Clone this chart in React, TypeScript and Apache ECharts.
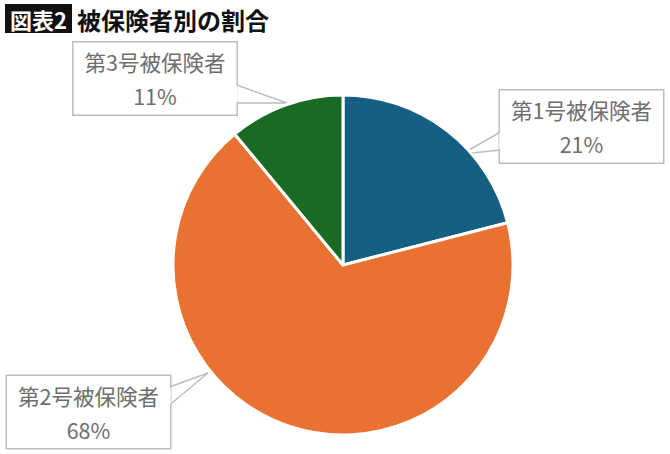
import React, { useEffect, useRef } from 'react';
import * as echarts from 'echarts';

const categories = ['第1号被保険者', '第2号被保険者', '第3号被保険者'];
const shares = [21, 68, 11];
const colors = ['#156082', '#E97132', '#196B24'];

// callout boxes (centre) and the wedge that points into each slice
const boxCenters = [
  [581.5, 126.5],
  [88.5, 412],
  [155, 78.5],
];
const wedges = [
  [[500.5, 132], [462, 154], [500.5, 150]],
  [[169.5, 387], [208, 373], [169.5, 405]],
  [[236.5, 85], [287, 103], [236.5, 103]],
];

const FONT = '"Noto Sans CJK JP", "Noto Sans", sans-serif';

const App: React.FC = () => {
  const chartRef = useRef<HTMLDivElement>(null);

  useEffect(() => {
    if (!chartRef.current) return;
    const chart = echarts.init(chartRef.current, undefined, { renderer: 'svg' });

    // white strokes that open the box border where each wedge joins it
    const gaps = wedges.map((w) => ({
      type: 'line',
      z: 100,
      shape: { x1: w[0][0], y1: w[0][1] + 1, x2: w[2][0], y2: w[2][1] - 1 },
      style: { stroke: '#fff', lineWidth: 2.5 },
    }));

    chart.setOption({
      animation: false,
      backgroundColor: '#fff',
      textStyle: { fontFamily: FONT },
      graphic: [
        { type: 'rect', shape: { x: 5, y: 4, width: 67, height: 29 }, style: { fill: '#111' } },
        {
          type: 'text',
          x: 38.5,
          y: 19,
          style: {
            text: '図表2',
            fill: '#fff',
            font: `bold 22px ${FONT}`,
            align: 'center',
            verticalAlign: 'middle',
          },
        },
        {
          type: 'text',
          x: 77,
          y: 19,
          style: {
            text: '被保険者別の割合',
            fill: '#111',
            font: `bold 24px ${FONT}`,
            align: 'left',
            verticalAlign: 'middle',
          },
        },
        ...gaps,
      ],
      series: [
        {
          type: 'pie',
          center: [343, 265],
          radius: 170,
          startAngle: 90,
          clockwise: true,
          itemStyle: { borderColor: '#fff', borderWidth: 3 },
          label: {
            show: true,
            formatter: '{b}\n{c}%',
            color: '#6e6e6e',
            fontSize: 21.5,
            lineHeight: 34,
            fontFamily: FONT,
            backgroundColor: '#fff',
            borderColor: '#bdbdbd',
            borderWidth: 1.5,
            padding: [2, 10],
            width: 143,
            align: 'center',
          },
          labelLine: {
            show: true,
            lineStyle: { color: '#bdbdbd', width: 1.5 },
          },
          labelLayout: (params: any) => {
            const i = params.dataIndex;
            return {
              x: boxCenters[i][0],
              y: boxCenters[i][1],
              align: 'center',
              verticalAlign: 'middle',
              labelLinePoints: wedges[i],
            };
          },
          data: categories.map((name, i) => ({
            name,
            value: shares[i],
            itemStyle: { color: colors[i] },
          })),
        },
      ],
    });

    return () => {
      chart.dispose();
    };
  }, []);

  return (
    <div
      ref={chartRef}
      style={{ position: 'absolute', left: 0, top: 0, width: '670px', height: '454px' }}
    />
  );
};

export default App;
